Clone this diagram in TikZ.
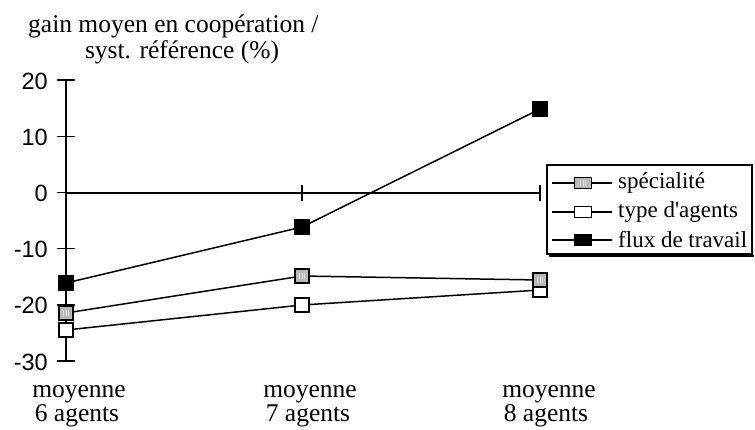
\documentclass[tikz,border=0pt]{standalone}
\usepackage{fontspec}
\setmainfont{Liberation Serif}
\setsansfont{Liberation Sans}
\begin{document}
\begin{tikzpicture}[x=1bp,y=-1bp,
  axisline/.style={line width=1.4bp, black},
  series/.style={line width=1.5bp, black},
  mk/.style={rectangle, draw=black, line width=1.1bp, minimum width=14bp, minimum height=14bp, inner sep=0pt},
  mkblack/.style={mk, fill=black},
  mkwhite/.style={mk, fill=white},
  mkgray/.style={mk, fill=gray!55,
    path picture={\draw[gray!25, line width=0.7bp]
      ([xshift=-2.5bp]path picture bounding box.center) ++(0,-3bp) -- ++(0,6bp)
      (path picture bounding box.center) ++(0,-3bp) -- ++(0,6bp)
      ([xshift=2.5bp]path picture bounding box.center) ++(0,-3bp) -- ++(0,6bp);}},
  legmk/.style={minimum width=17bp, minimum height=11bp},
  txt/.style={font=\fontsize{25.5bp}{28bp}\selectfont, inner sep=0pt},
  legtxt/.style={font=\fontsize{23bp}{26bp}\selectfont, inner sep=0pt, anchor=west},
  ticklab/.style={font=\sffamily\fontsize{23.5bp}{26bp}\selectfont, inner sep=0pt, anchor=east}
]
\useasboundingbox (0,0) rectangle (755,429);

% title
\node[txt, anchor=base west] (title1) at (28,32) {gain moyen en coopération /};
\node[txt, anchor=base] (title2) at (182,58) {syst. référence (\%)};

% y axis
\coordinate (ytop) at (66,80);
\coordinate (ybot) at (66,361);
\draw[axisline] (ytop) -- (ybot);
\foreach \v/\yy in {20/80,10/136.2,0/192.4,-10/248.6,-20/304.8,-30/361}{
  \draw[axisline] (57,\yy) -- (75,\yy);
  \node[ticklab] (tl\v) at (48,\yy+1) {\v};
}

% zero line with category ticks
\coordinate (z0) at (66,193);
\coordinate (z2) at (540,193);
\draw[axisline] (z0) -- (z2);
\draw[axisline] (302,185) -- (302,201);
\draw[axisline] (540,185) -- (540,201);

% data coordinates
\coordinate (f1) at (66,283);
\coordinate (f2) at (302,227);
\coordinate (f3) at (540,109);
\coordinate (s1) at (66,313);
\coordinate (s2) at (302,276);
\coordinate (s3) at (540,280);
\coordinate (t1) at (66,330);
\coordinate (t2) at (302,305);
\coordinate (t3) at (540,290);

\draw[series] (t1) -- (t2) -- (t3);
\draw[series] (s1) -- (s2) -- (s3);
\draw[series] (f1) -- (f2) -- (f3);

\node[mkwhite] (mt1) at (t1) {};
\node[mkwhite] (mt2) at (t2) {};
\node[mkwhite] (mt3) at (t3) {};
\node[mkgray] (ms1) at (s1) {};
\node[mkgray] (ms2) at (s2) {};
\node[mkgray] (ms3) at (s3) {};
\node[mkblack] (mf1) at (f1) {};
\node[mkblack] (mf2) at (f2) {};
\node[mkblack] (mf3) at (f3) {};

% x category labels
\node[txt, anchor=base] (c1a) at (79,397) {moyenne};
\node[txt, anchor=base] (c1b) at (77,421) {6 agents};
\node[txt, anchor=base] (c2a) at (310,397) {moyenne};
\node[txt, anchor=base] (c2b) at (308,421) {7 agents};
\node[txt, anchor=base] (c3a) at (549,397) {moyenne};
\node[txt, anchor=base] (c3b) at (546,421) {8 agents};

% legend
\draw[line width=2.2bp] (549,256) -- (754,256);
\draw[line width=1.3bp, fill=white] (547,165) rectangle (752,254);
\foreach \yy/\sty/\lab/\nm in {183/mkgray/spécialité/a,212/mkwhite/type d\textquotesingle agents/b,240/mkblack/flux de travail/c}{
  \coordinate (la\nm) at (552,\yy);
  \coordinate (lb\nm) at (612,\yy);
  \draw[series] (la\nm) -- (lb\nm);
  \node[\sty, legmk] (lm\nm) at (583,\yy) {};
  \node[legtxt] (lt\nm) at (618,\yy) {\lab};
}
\end{tikzpicture}
\end{document}
